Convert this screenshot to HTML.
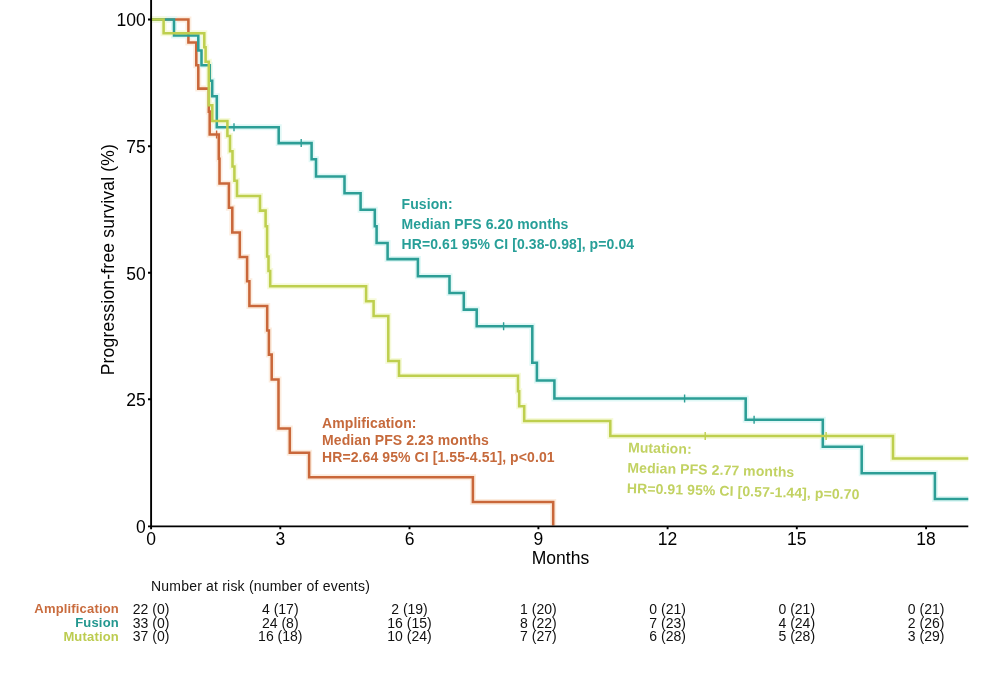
<!DOCTYPE html>
<html>
<head>
<meta charset="utf-8">
<style>
html,body{margin:0;padding:0;background:#fff;}
body{width:1000px;height:693px;overflow:hidden;}
svg{display:block;will-change:transform;filter:blur(0.35px);}
text{font-family:"Liberation Sans",sans-serif;}
.ax{font-size:17.5px;fill:#000;}
.tb{font-size:14px;fill:#111;}
.lb{font-size:13px;font-weight:bold;letter-spacing:0.17px;}
.an{font-size:14px;font-weight:bold;letter-spacing:0.09px;}
.o{stroke:#C9673A;}
.t{stroke:#2C9E96;}
.y{stroke:#BECF4E;}
</style>
</head>
<body>
<svg width="1000" height="693" viewBox="0 0 1000 693">
<rect width="1000" height="693" fill="#fff"/>

<!-- curves -->
<!-- jpeg-like halos -->
<g fill="none" stroke-width="6" stroke-linejoin="miter" opacity="0.9">
<path d="M151,19.5 H188.4 V42.5 H196.3 V65.3 H198.3 V88.6 H208.8 V111.6 H209.7 V134.5 H218.8 V158.7 H219.5 V183.5 H228.9 V207.7 H232.3 V232.5 H239.8 V256.9 H247.1 V281.2 H249.4 V306 H267.2 V330.4 H268.9 V354.6 H271.7 V379.5 H278.5 V428.5 H289.8 V452.8 H309.1 V477.3 H472.9 V501.9 H553.2 V525.5" stroke="#FCEADB"/>
<path d="M151,19.5 H174 V35.5 H198.3 V50.4 H201.5 V65.3 H209.8 V80.8 H212.2 V96.2 H216.8 V127.2 H278.7 V143.1 H311.6 V159.3 H316 V176.4 H344.5 V193.3 H360.6 V209.8 H374.8 V226.2 H376.6 V242.9 H387.6 V259.1 H417.9 V276.2 H449.5 V292.9 H463.8 V309.6 H476.7 V326.3 H532.3 V362.8 H536.9 V380.4 H554.4 V398.5 H745.7 V419.7 H822.8 V446.8 H861.7 V473.2 H934.9 V498.9 H968.3" stroke="#DDF8F6"/>
<path d="M151,19.5 H163.6 V33.3 H204.3 V47.3 H205.6 V61.8 H208.8 V105.3 H212.3 V121 H227.4 V136 H230 V151.2 H232.5 V166.4 H234.4 V180.8 H237 V195.9 H260 V210.6 H265.6 V226.2 H267.1 V256.4 H268.5 V270.9 H270.2 V286.3 H366.1 V301.2 H373.6 V315.9 H388.3 V360.9 H399 V375.8 H518 V391.3 H519.2 V406.3 H524.2 V421 H610.3 V435.9 H893 V458.5 H968.3" stroke="#F6FAD6"/>
</g>
<g fill="none" stroke-width="2.55" stroke-linejoin="miter" stroke-linecap="butt">
<path class="o" d="M151,19.5 H188.4 V42.5 H196.3 V65.3 H198.3 V88.6 H208.8 V111.6 H209.7 V134.5 H218.8 V158.7 H219.5 V183.5 H228.9 V207.7 H232.3 V232.5 H239.8 V256.9 H247.1 V281.2 H249.4 V306 H267.2 V330.4 H268.9 V354.6 H271.7 V379.5 H278.5 V428.5 H289.8 V452.8 H309.1 V477.3 H472.9 V501.9 H553.2 V525.5"/>
<path class="t" d="M151,19.5 H174 V35.5 H198.3 V50.4 H201.5 V65.3 H209.8 V80.8 H212.2 V96.2 H216.8 V127.2 H278.7 V143.1 H311.6 V159.3 H316 V176.4 H344.5 V193.3 H360.6 V209.8 H374.8 V226.2 H376.6 V242.9 H387.6 V259.1 H417.9 V276.2 H449.5 V292.9 H463.8 V309.6 H476.7 V326.3 H532.3 V362.8 H536.9 V380.4 H554.4 V398.5 H745.7 V419.7 H822.8 V446.8 H861.7 V473.2 H934.9 V498.9 H968.3"/>
<path class="y" d="M151,19.5 H163.6 V33.3 H204.3 V47.3 H205.6 V61.8 H208.8 V105.3 H212.3 V121 H227.4 V136 H230 V151.2 H232.5 V166.4 H234.4 V180.8 H237 V195.9 H260 V210.6 H265.6 V226.2 H267.1 V256.4 H268.5 V270.9 H270.2 V286.3 H366.1 V301.2 H373.6 V315.9 H388.3 V360.9 H399 V375.8 H518 V391.3 H519.2 V406.3 H524.2 V421 H610.3 V435.9 H893 V458.5 H968.3"/>
</g>
<!-- censor ticks -->
<g fill="none" stroke-width="1.4">
<path class="o" d="M216.6,130.5 V138.5"/>
<path class="t" d="M234,123.2 V131.2 M301.2,139.1 V147.1 M503.6,322.3 V330.3 M684.6,394.6 V402.6 M754.1,415.7 V423.7"/>
<path class="y" d="M705.2,431.9 V439.9 M826.1,431.9 V439.9"/>
</g>

<!-- axes -->
<g stroke="#000" stroke-width="1.9" fill="none">
<path d="M151.1,0 V527.1"/>
<path d="M150.2,526.35 H968.3"/>
<path d="M148,19.5 H151 M148,146.3 H151 M148,272.8 H151 M148,399.3 H151 M148,526.35 H151"/>
<path d="M151.1,526 V529.2 M280.3,526 V529.2 M409.5,526 V529.2 M538.4,526 V529.2 M667.6,526 V529.2 M796.8,526 V529.2 M926.1,526 V529.2"/>
</g>

<!-- y tick labels -->
<g class="ax" text-anchor="end">
<text x="145.8" y="26">100</text>
<text x="145.8" y="152.9">75</text>
<text x="145.8" y="279.6">50</text>
<text x="145.8" y="406.1">25</text>
<text x="145.8" y="532.6">0</text>
</g>
<!-- x tick labels -->
<g class="ax" text-anchor="middle">
<text x="151.1" y="545">0</text>
<text x="280.3" y="545">3</text>
<text x="409.5" y="545">6</text>
<text x="538.4" y="545">9</text>
<text x="667.6" y="545">12</text>
<text x="796.8" y="545">15</text>
<text x="926.1" y="545">18</text>
<text x="560.5" y="564.4">Months</text>
</g>
<text class="ax" transform="translate(113.9,259.6) rotate(-90)" text-anchor="middle" style="letter-spacing:0.2px">Progression-free survival (%)</text>

<!-- annotations -->
<g class="an" fill="#279F98">
<text x="401.5" y="208.6">Fusion:</text>
<text x="401.5" y="228.7">Median PFS 6.20 months</text>
<text x="401.5" y="249.4">HR=0.61 95% CI [0.38-0.98], p=0.04</text>
</g>
<g class="an" fill="#C66A3C">
<text x="322" y="428">Amplification:</text>
<text x="322" y="445">Median PFS 2.23 months</text>
<text x="322" y="462.1">HR=2.64 95% CI [1.55-4.51], p&lt;0.01</text>
</g>
<g class="an" fill="#C2D262" transform="rotate(1.55 628 451.7)">
<text x="627.9" y="452.2">Mutation:</text>
<text x="627.9" y="472.4">Median PFS 2.77 months</text>
<text x="627.9" y="493">HR=0.91 95% CI [0.57-1.44], p=0.70</text>
</g>

<!-- risk table -->
<text class="tb" x="151" y="591.1" style="letter-spacing:0.2px">Number at risk (number of events)</text>
<g class="lb" text-anchor="end">
<text x="118.9" y="613.4" fill="#C96C3E">Amplification</text>
<text x="118.9" y="627.2" fill="#23978F">Fusion</text>
<text x="118.9" y="640.9" fill="#BCCC50">Mutation</text>
</g>
<g class="tb" text-anchor="middle">
<text x="151.1" y="613.7">22 (0)</text>
<text x="151.1" y="627.5">33 (0)</text>
<text x="151.1" y="641.3">37 (0)</text>
<text x="280.3" y="613.7">4 (17)</text>
<text x="280.3" y="627.5">24 (8)</text>
<text x="280.3" y="641.3">16 (18)</text>
<text x="409.5" y="613.7">2 (19)</text>
<text x="409.5" y="627.5">16 (15)</text>
<text x="409.5" y="641.3">10 (24)</text>
<text x="538.4" y="613.7">1 (20)</text>
<text x="538.4" y="627.5">8 (22)</text>
<text x="538.4" y="641.3">7 (27)</text>
<text x="667.6" y="613.7">0 (21)</text>
<text x="667.6" y="627.5">7 (23)</text>
<text x="667.6" y="641.3">6 (28)</text>
<text x="796.8" y="613.7">0 (21)</text>
<text x="796.8" y="627.5">4 (24)</text>
<text x="796.8" y="641.3">5 (28)</text>
<text x="926.1" y="613.7">0 (21)</text>
<text x="926.1" y="627.5">2 (26)</text>
<text x="926.1" y="641.3">3 (29)</text>
</g>
</svg>
</body>
</html>
